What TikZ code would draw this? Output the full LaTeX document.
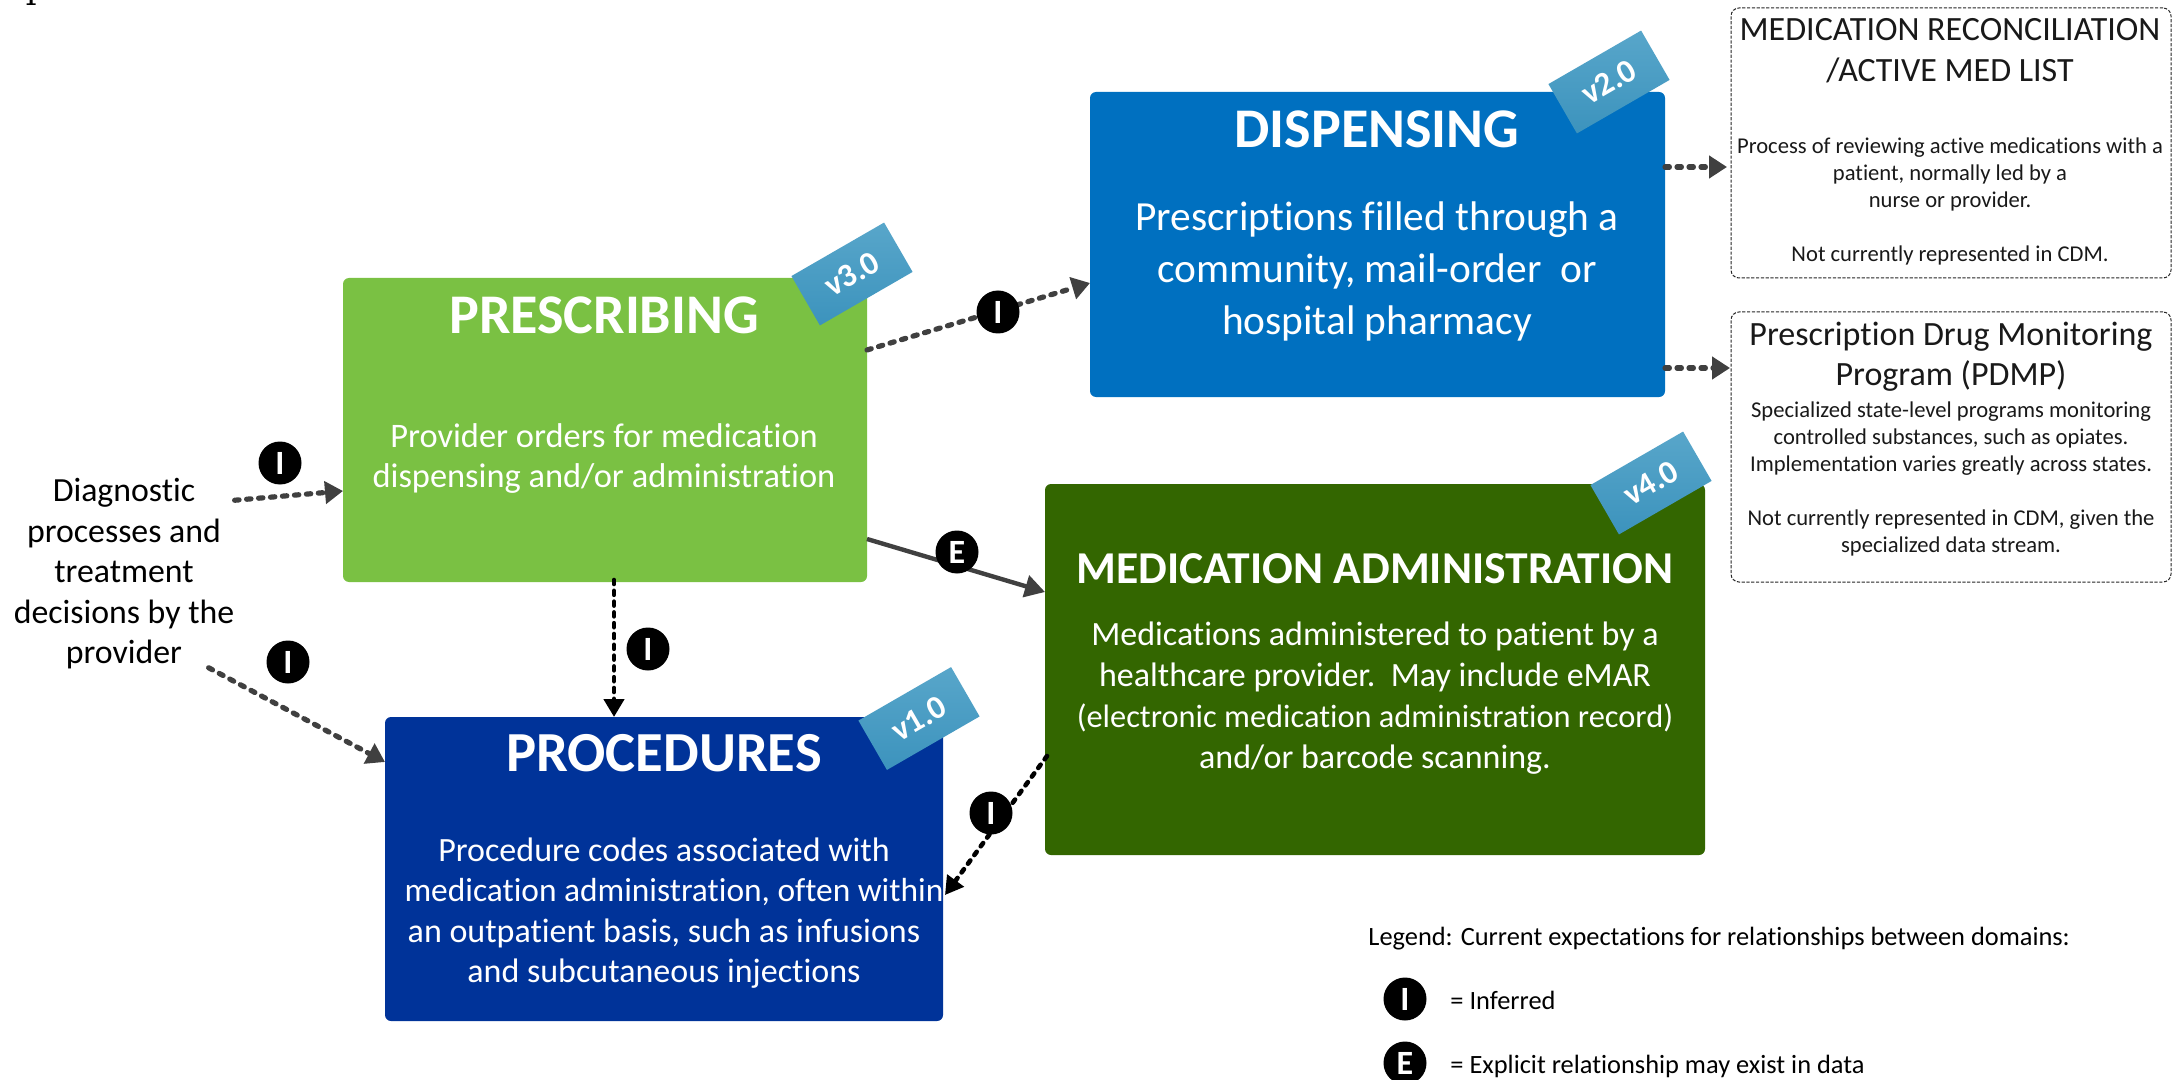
\documentclass[tikz,border=0pt]{standalone}
\usepackage{fontspec}
\setmainfont{Carlito}[Ligatures=NoCommon]
\usetikzlibrary{arrows.meta,calc}
\definecolor{arrowgrey}{HTML}{404040}
\definecolor{prescgreen}{HTML}{7AC143}
\definecolor{dispblue}{HTML}{0070C0}
\definecolor{admingreen}{HTML}{336600}
\definecolor{procblue}{HTML}{003399}
\definecolor{tagtop}{HTML}{58A6CA}
\definecolor{tagbot}{HTML}{3C93BD}
\newcommand{\fsz}[2]{\fontsize{#1pt}{#2pt}\selectfont}
\tikzset{
  x=0.5pt,y=-0.5pt,
  dombox/.style={rounded corners=3pt,inner sep=0pt,outer sep=0pt},
  domtitle/.style={text=white,font=\bfseries\fsz{28}{33},inner sep=0pt},
  dombody/.style={text=white,align=center,inner sep=0pt},
  vtag/.style={rotate=30,minimum width=53.5pt,minimum height=28.5pt,inner sep=0pt,
     top color=tagtop,bottom color=tagbot,text=white,font=\bfseries\fsz{16.5}{18}},
  badge/.style={circle,fill=black,text=white,minimum size=21.5pt,inner sep=0pt,font=\bfseries\fsz{17}{17}},
  notebox/.style={rounded corners=4pt,draw=black!85,dash pattern=on 1.6pt off 0.8pt,line width=0.5pt,inner sep=0pt,outer sep=0pt},
  notetext/.style={align=center,inner sep=0pt,text=black!90},
  greydot/.style={draw=arrowgrey,line width=2.6pt,line cap=round,dash pattern=on 2.2pt off 3.8pt,
     -{Triangle[length=9pt,width=11pt,sep=0pt]}},
  blackdot/.style={draw=black,line width=2.3pt,line cap=round,dash pattern=on 2pt off 3.4pt,
     -{Triangle[length=9pt,width=10pt,sep=0pt]}},
  greysolid/.style={draw=arrowgrey,line width=2.2pt,-{Triangle[length=10pt,width=11pt,sep=0pt]}},
  legendtext/.style={inner sep=0pt,anchor=west,font=\fsz{13.2}{18}},
}
\begin{document}
\begin{tikzpicture}
\useasboundingbox (0,0) rectangle (2172,1080);
\fill[white] (0,0) rectangle (2172,1080);
% fragment of cropped text at the top edge
\fill[black] (29.5,0) rectangle (32.5,4) (26.5,3.5) rectangle (35.5,5);

% domain boxes
\node[dombox,fill=prescgreen,minimum width=262pt,minimum height=152pt] (presc) at (605,430) {};
\node[dombox,fill=dispblue,minimum width=287.5pt,minimum height=152.5pt] (disp) at (1377.5,244.5) {};
\node[dombox,fill=admingreen,minimum width=330pt,minimum height=185.5pt] (admin) at (1375,669.5) {};
\node[dombox,fill=procblue,minimum width=279pt,minimum height=152pt] (proc) at (664,869) {};

% tags
\node[vtag] (t3) at (852,274) {v3.0};
\node[vtag] (t2) at (1609,82) {v2.0};
\node[vtag] (t4) at (1651,483) {v4.0};
\node[vtag] (t1) at (919,718.5) {v1.0};

% titles
\node[domtitle] (presct) at (604,315) {PRESCRIBING};
\node[domtitle] (dispt) at (1377,129) {DISPENSING};
\node[domtitle,font=\bfseries\fsz{28.3}{33}] (proct) at (664,753) {PROCEDURES};
\node[domtitle,font=\bfseries\fsz{22.8}{28}] (admint) at (1375,569) {MEDICATION ADMINISTRATION};

% bodies
\node[dombody,font=\fsz{17.2}{20.3}] (prescb) at (604,458.5) {Provider orders for medication\\dispensing and/or administration};
\node[dombody,font=\fsz{20.7}{26}] (dispb) at (1377,271) {Prescriptions filled through a\\community, mail-order\ \ or\\hospital pharmacy};
\node[dombody,font=\fsz{17}{20.5}] (adminb) at (1375,698) {Medications administered to patient by a\\healthcare provider.\ \ May include eMAR\\{\fsz{16.2}{20.5}(electronic medication administration record)}\\and/or barcode scanning.};
\node[dombody,font=\fsz{17}{20.3}] (procb) at (664,913) {Procedure codes associated with\\\hspace*{10pt}{\fsz{16.7}{20.3}medication administration, often within}\\an outpatient basis, such as infusions\\and subcutaneous injections};

% notes
\node[notebox,minimum width=220pt,minimum height=135pt] (rec) at (1951,143) {};
\node[notebox,minimum width=220pt,minimum height=135pt] (pdmp) at (1951,447) {};
\node[notetext,font=\fsz{17}{20.5}] (rect) at (1950,50.5) {MEDICATION RECONCILIATION\\/ACTIVE MED LIST};
\node[notetext,font=\fsz{11.3}{13.5}] (recb) at (1950,201) {Process of reviewing active medications with a\\patient, normally led by a\\nurse or provider.\\[13.5pt]Not currently represented in CDM.};
\node[notetext,font=\fsz{17}{20}] (pdmpt) at (1951,356.5) {Prescription Drug Monitoring\\Program (PDMP)};
\node[notetext,font=\fsz{11.3}{13.5}] (pdmpb) at (1951,478.5) {Specialized state-level programs monitoring\\controlled substances, such as opiates.\\Implementation varies greatly across states.\\[13.5pt]Not currently represented in CDM, given the\\specialized data stream.};

% source text
\node[align=center,inner sep=0pt,font=\fsz{16.9}{20.25}] (diag) at (124,574) {Diagnostic\\processes and\\treatment\\decisions by the\\provider};

% connector ends
\coordinate (dA) at ($(diag.north east)+(0,22)$);
\coordinate (dB) at ($(diag.south east)+(-26,-2)$);
\coordinate (pR) at ($(presc.north east)+(0,72)$);
\coordinate (pRb) at ($(presc.south east)+(0,-43)$);
\coordinate (pB) at ($(presc.south west)+(271,-2)$);
\coordinate (aL) at ($(admin.north west)+(2,272)$);
\coordinate (dR) at ($(disp.north east)+(0,75)$);
\coordinate (dRb) at ($(disp.north east)+(0,276)$);
\coordinate (i1) at ($(presc.north west)+(0,213)$);
\coordinate (i2) at ($(proc.north west)+(0,45)$);
\coordinate (i3) at ($(proc.north west)+(229,0)$);
\coordinate (i4) at ($(disp.north west)+(0,191)$);
\coordinate (i5) at ($(admin.north west)+(0,108)$);
\coordinate (i6) at ($(proc.north east)+(2,178)$);
\coordinate (i7) at ($(rec.west)+(-4,24)$);
\coordinate (i8) at ($(pdmp.west)+(-1,-79)$);

% connectors
\draw[greydot] (dA) -- (i1);
\draw[greydot] (dB) -- (i2);
\draw[blackdot] (pB) -- (i3);
\draw[greydot] (pR) -- (i4);
\draw[greysolid] (pRb) -- (i5);
\draw[blackdot] (aL) -- (i6);
\draw[greydot] (dR) -- (i7);
\draw[greydot] (dRb) -- (i8);

% badges
\node[badge] (b1) at (280,463) {I};
\node[badge] (b2) at (288,662) {I};
\node[badge] (b3) at (648,649) {I};
\node[badge] (b4) at (998,312) {I};
\node[badge] (b5) at (957,552) {E};
\node[badge] (b6) at (991,813) {I};

% legend
\node[legendtext] (lg) at (1368,939) {Legend: Current expectations for relationships between domains:};
\node[badge] (lgi) at (1405,999) {I};
\node[legendtext] (lgit) at (1450,1000) {= Inferred};
\node[badge] (lge) at (1405,1063) {E};
\node[legendtext] (lget) at (1450,1066) {= Explicit relationship may exist in data};
\end{tikzpicture}
\end{document}
